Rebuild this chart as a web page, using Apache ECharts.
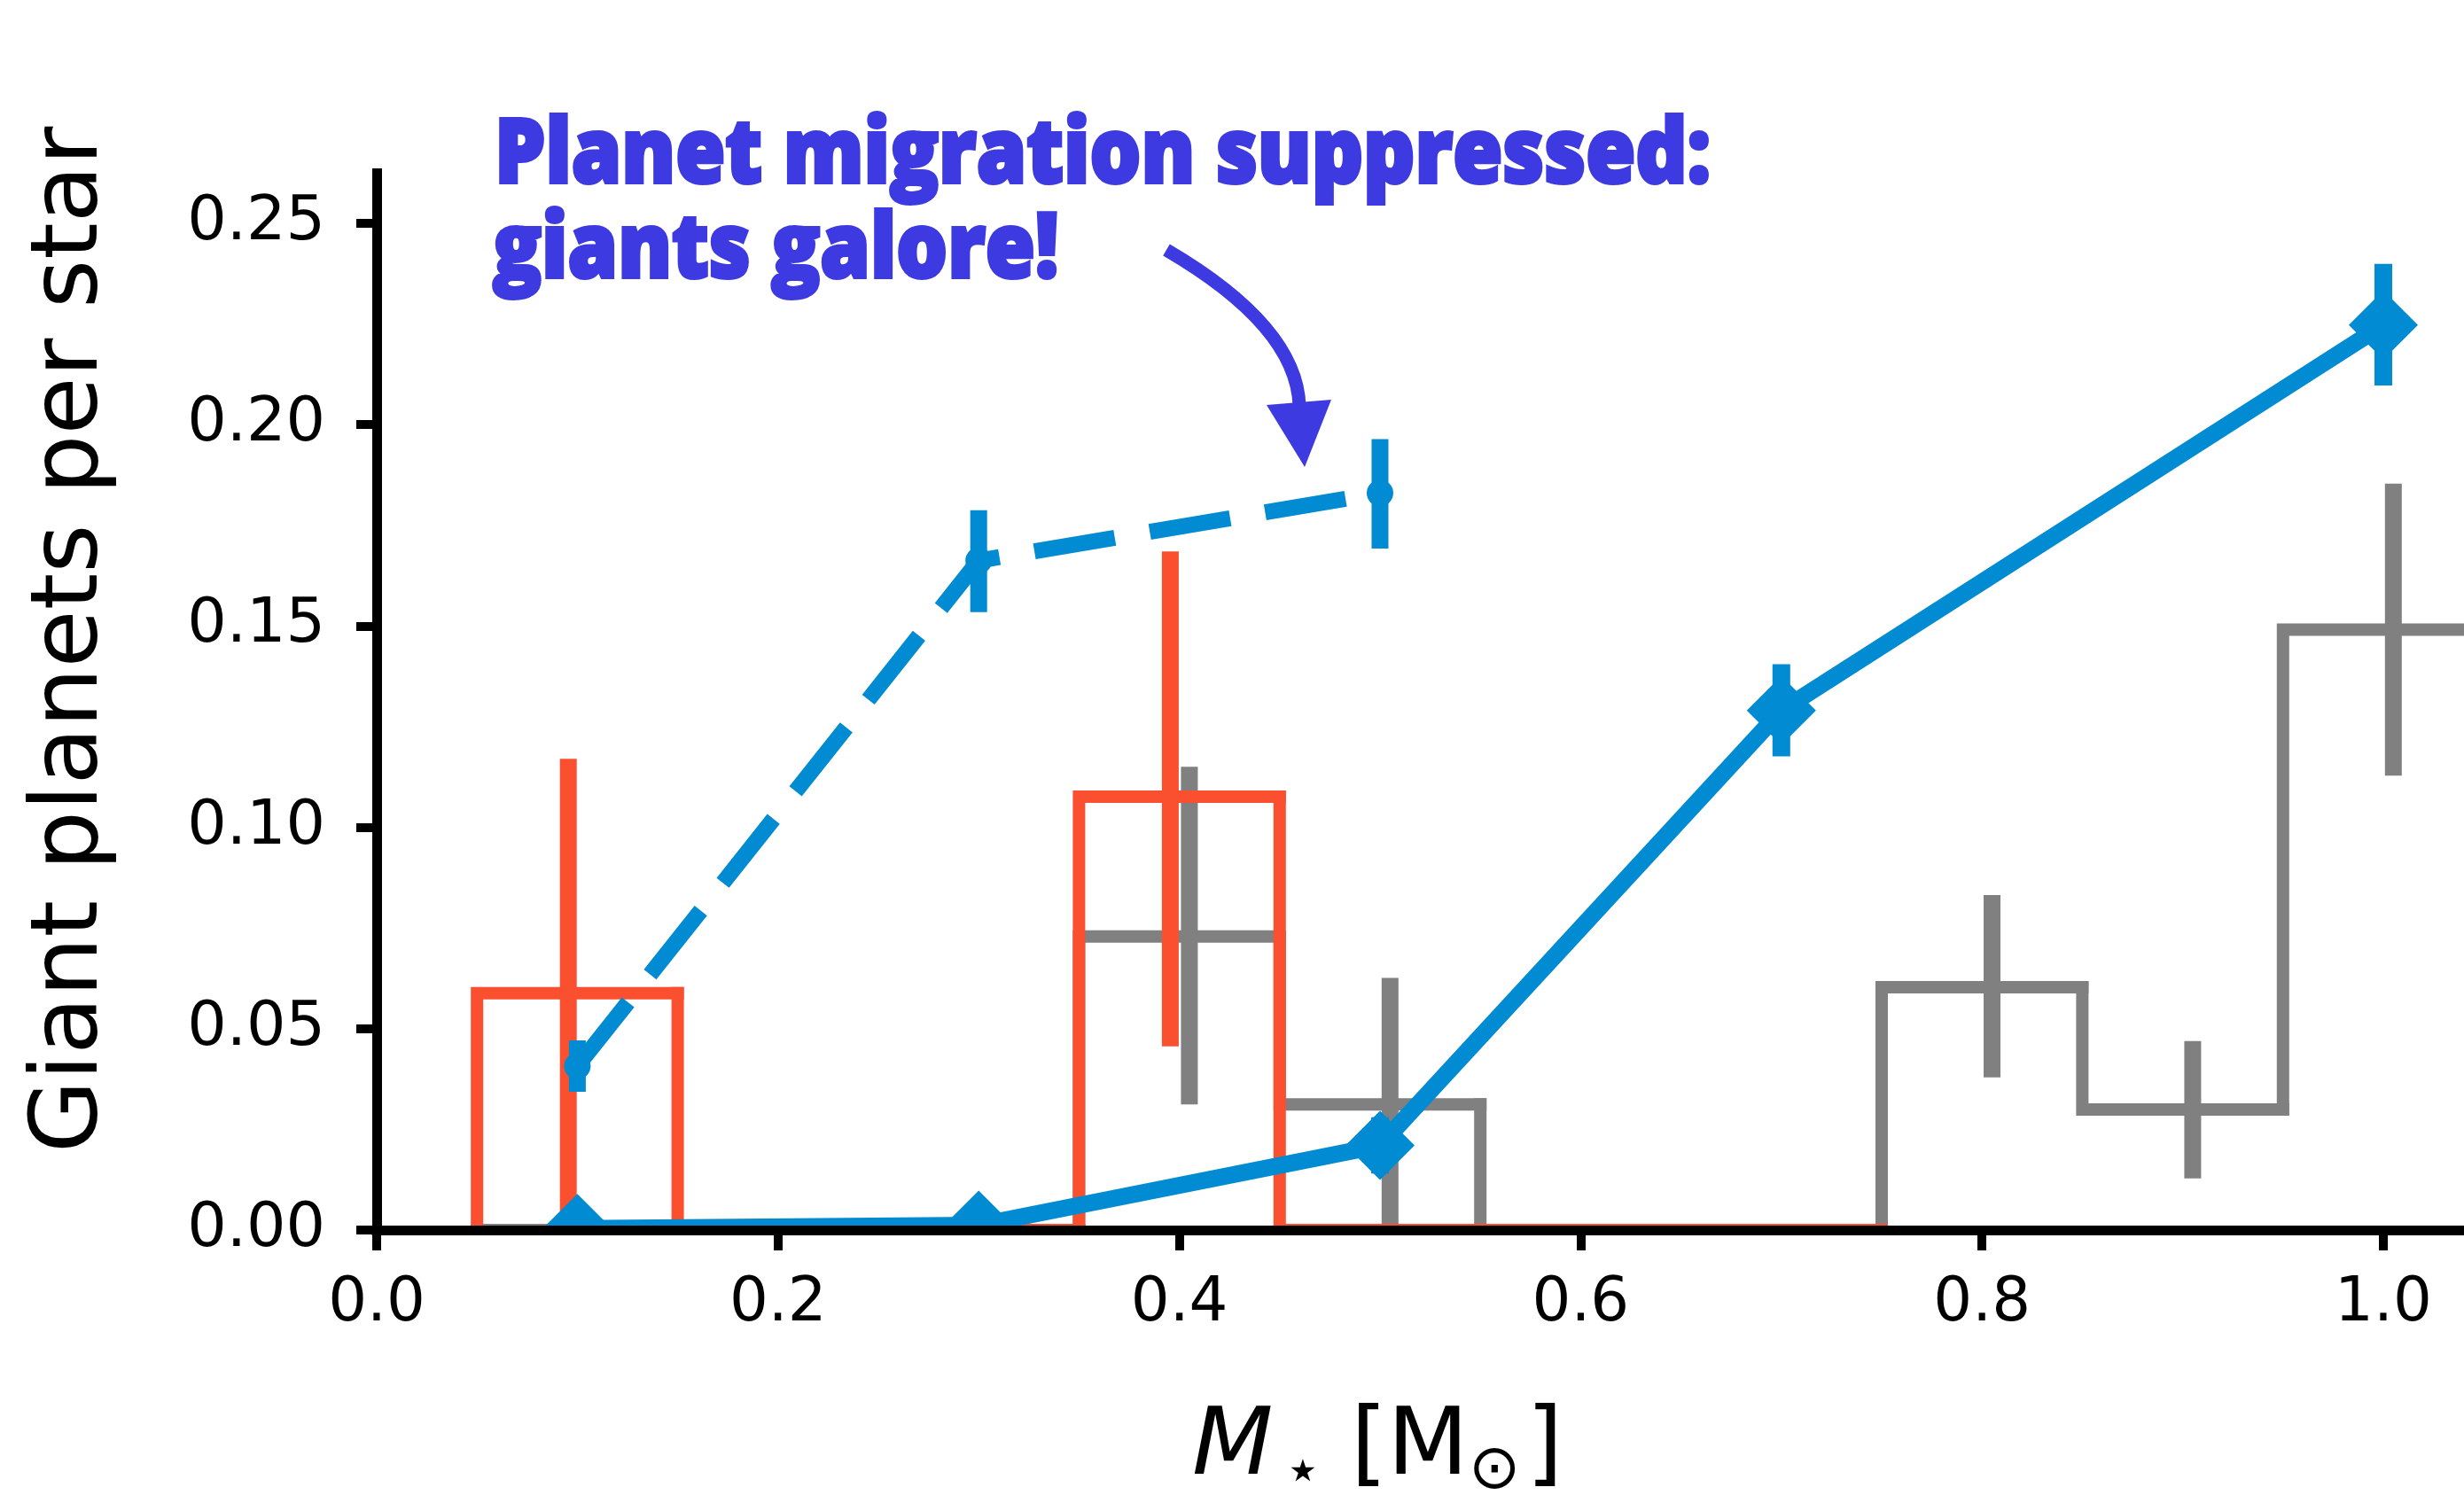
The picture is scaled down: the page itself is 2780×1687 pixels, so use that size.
<!DOCTYPE html>
<html>
<head>
<meta charset="utf-8">
<script src="https://cdn.jsdelivr.net/npm/echarts@6/dist/echarts.min.js"></script>
<style>
  html, body { margin: 0; padding: 0; background: #ffffff; }
  #chart { width: 2780px; height: 1687px; }
</style>
</head>
<body>
<div id="chart"></div>
<script>
// ---- data ---------------------------------------------------------------
// Model: giant planets per star vs. stellar mass, with migration (solid)
const massCentres   = [0.1, 0.3, 0.5, 0.7, 1.0];
const migrationRate = [0.0004, 0.0012, 0.021, 0.129, 0.2247];
const migrationLow  = [null, null, 0.014, 0.1176, 0.2097];
const migrationHigh = [null, null, 0.028, 0.1405, 0.2399];

// Model with planet migration suppressed (dashed)
const noMigMass = [0.1, 0.3, 0.5];
const noMigRate = [0.0407, 0.1662, 0.183];
const noMigLow  = [0.0343, 0.1534, 0.1692];
const noMigHigh = [0.0471, 0.1787, 0.1964];

// Observed occurrence, M dwarf survey (red step histogram)
const redEdges    = [0.05, 0.15, 0.25, 0.35, 0.45, 0.55, 0.65, 0.75];
const redRate     = [0.0588, 0, 0, 0.1076, 0, 0, 0];
const redErrMass  = [0.0955, 0.3955];
const redErrLow   = [0, 0.0456];
const redErrHigh  = [0.117, 0.1685];

// Observed occurrence, wider survey (grey step histogram)
const grayEdges   = [0.05, 0.15, 0.25, 0.35, 0.45, 0.55, 0.65, 0.75, 0.85, 0.95, 1.05];
const grayRate    = [0, 0, 0, 0.0729, 0.0312, 0, 0, 0.0603, 0.0299, 0.1491];
const grayErrMass = [0.405, 0.505, 0.805, 0.905, 1.005];
const grayErrLow  = [0.0312, 0, 0.0379, 0.0128, 0.1128];
const grayErrHigh = [0.115, 0.0626, 0.0832, 0.0469, 0.1853];

// Axis ticks
const xTicks = [0, 0.2, 0.4, 0.6, 0.8, 1.0];
const yTicks = [0, 0.05, 0.10, 0.15, 0.20, 0.25];

// ---- style --------------------------------------------------------------
const BLUE = '#008bd2';
const RED = '#fa5030';
const GRAY = '#808080';
const NOTE = '#3d3ae2';
const TICK_FONT = 'DejaVu Sans';

const chart = echarts.init(document.getElementById('chart'), null, { renderer: 'canvas' });

// Step outline: each bin draws its left riser and its top; the last bin closes to zero
function stepSeries(edges, rates, color) {
  const data = rates.map((h, i) => [edges[i], edges[i + 1], h, i > 0 ? rates[i - 1] : 0, i === rates.length - 1 ? 1 : 0]);
  return {
    type: 'custom', clip: true, silent: true, data,
    encode: { x: [0, 1], y: [2, 3] },
    renderItem(params, api) {
      const x0 = api.value(0), x1 = api.value(1), h = api.value(2), prev = api.value(3), last = api.value(4);
      const pts = [api.coord([x0, prev]), api.coord([x0, h]), api.coord([x1, h])];
      if (last) pts.push(api.coord([x1, 0]));
      return {
        type: 'polyline', shape: { points: pts },
        style: { stroke: color, lineWidth: 14, fill: null, lineJoin: 'miter', lineCap: 'square' }
      };
    }
  };
}

// Vertical error bars without caps
function errorSeries(xs, lo, hi, color, width) {
  const data = xs.map((x, i) => [x, lo[i], hi[i]]).filter(d => d[1] != null);
  return {
    type: 'custom', clip: true, silent: true, data,
    encode: { x: 0, y: [1, 2] },
    renderItem(params, api) {
      const a = api.coord([api.value(0), api.value(1)]);
      const b = api.coord([api.value(0), api.value(2)]);
      return {
        type: 'line', shape: { x1: a[0], y1: a[1], x2: b[0], y2: b[1] },
        style: { stroke: color, lineWidth: width, lineCap: 'butt' }
      };
    }
  };
}

// Solid model curve: segment to the next point, error bar and diamond marker
const migrationSeries = {
  type: 'custom', clip: true, silent: true,
  data: massCentres.map((x, i) => [x, migrationRate[i], migrationLow[i], migrationHigh[i]]),
  encode: { x: 0, y: 1 },
  renderItem(params, api) {
    const i = params.dataIndex;
    const p = api.coord([api.value(0), api.value(1)]);
    const children = [];
    if (i < massCentres.length - 1) {
      const q = api.coord([massCentres[i + 1], migrationRate[i + 1]]);
      children.push({
        type: 'line', shape: { x1: p[0], y1: p[1], x2: q[0], y2: q[1] },
        style: { stroke: BLUE, lineWidth: 19, lineCap: 'round' }
      });
    }
    if (migrationLow[i] != null) {
      const a = api.coord([api.value(0), migrationLow[i]]);
      const b = api.coord([api.value(0), migrationHigh[i]]);
      children.push({
        type: 'line', shape: { x1: a[0], y1: a[1], x2: b[0], y2: b[1] },
        style: { stroke: BLUE, lineWidth: 20, lineCap: 'butt' }
      });
    }
    const r = 39;
    children.push({
      type: 'polygon',
      shape: { points: [[p[0], p[1] - r], [p[0] + r, p[1]], [p[0], p[1] + r], [p[0] - r, p[1]]] },
      style: { fill: BLUE }
    });
    return { type: 'group', children };
  }
};

const noMigSeries = {
  type: 'line', silent: true,
  data: noMigMass.map((x, i) => [x, noMigRate[i]]),
  symbol: 'circle', symbolSize: 30,
  itemStyle: { color: BLUE },
  lineStyle: { color: BLUE, width: 18, type: [92, 40], cap: 'butt', join: 'round' }
};

function fmtTick(digits, ticks) {
  return v => ticks.some(t => Math.abs(t - v) < 1e-9) ? v.toFixed(digits) : '';
}

chart.setOption({
  animation: false,
  backgroundColor: '#ffffff',
  grid: { left: 425, right: 0, top: 190, bottom: 299, containLabel: false },
  xAxis: {
    type: 'value', min: 0, max: 1.0402, interval: 0.2, z: 5,
    splitLine: { show: false },
    axisLine: { show: true, onZero: false, lineStyle: { color: '#000', width: 11, cap: 'square' } },
    axisTick: { show: true, customValues: xTicks, length: 23, lineStyle: { color: '#000', width: 10 } },
    axisLabel: {
      customValues: xTicks, formatter: fmtTick(1, xTicks), margin: 50,
      fontFamily: TICK_FONT, fontSize: 69, color: '#000'
    }
  },
  yAxis: {
    type: 'value', min: 0, max: 0.2636, interval: 0.05, z: 5,
    splitLine: { show: false },
    axisLine: { show: true, onZero: false, lineStyle: { color: '#000', width: 11, cap: 'butt' } },
    axisTick: { show: true, customValues: yTicks, length: 23, lineStyle: { color: '#000', width: 10 } },
    axisLabel: {
      customValues: yTicks, formatter: fmtTick(2, yTicks), margin: 58,
      fontFamily: TICK_FONT, fontSize: 70, color: '#000'
    }
  },
  series: [
    stepSeries(grayEdges, grayRate, GRAY),
    errorSeries(grayErrMass, grayErrLow, grayErrHigh, GRAY, 19),
    stepSeries(redEdges, redRate, RED),
    errorSeries(redErrMass, redErrLow, redErrHigh, RED, 19),
    noMigSeries,
    errorSeries(noMigMass, noMigLow, noMigHigh, BLUE, 19),
    migrationSeries
  ]
});

// ---- labels and annotation ----------------------------------------------
const noteFont = '800 101px "Open Sans"';
const ctx = document.createElement('canvas').getContext('2d');
ctx.font = noteFont;
const noteLine1 = 'Planet migration suppressed:';
const noteLine2 = 'giants galore!';
const noteScale = 1372 / ctx.measureText(noteLine1).width;

const labelFont = { fontFamily: 'DejaVu Sans', fontSize: 106, fill: '#000' };

chart.setOption({
  graphic: [
    {
      type: 'text', x: 81, y: 722, rotation: Math.PI / 2, silent: true,
      style: Object.assign({ text: 'Giant planets per star', align: 'center', verticalAlign: 'middle' }, labelFont)
    },
    {
      type: 'text', x: 1345, y: 1635, silent: true,
      style: Object.assign({ text: 'M', align: 'left', verticalAlign: 'middle', fontStyle: 'italic' }, labelFont)
    },
    {
      type: 'text', x: 1448, y: 1664, silent: true,
      style: { text: '\u22c6', align: 'left', verticalAlign: 'middle', fontFamily: 'DejaVu Sans', fontSize: 70, fill: '#000' }
    },
    {
      type: 'text', x: 1524, y: 1635, silent: true,
      style: Object.assign({ text: '[M', align: 'left', verticalAlign: 'middle' }, labelFont)
    },
    {
      type: 'text', x: 1657, y: 1661, silent: true,
      style: { text: '\u2299', align: 'left', verticalAlign: 'middle', fontFamily: 'DejaVu Sans', fontSize: 70, fill: '#000' }
    },
    {
      type: 'text', x: 1722, y: 1635, silent: true,
      style: Object.assign({ text: ']', align: 'left', verticalAlign: 'middle' }, labelFont)
    },
    {
      type: 'text', x: 558, y: 177, scaleX: noteScale, silent: true,
      style: { text: noteLine1, font: noteFont, fill: NOTE, stroke: NOTE, lineWidth: 4, align: 'left', verticalAlign: 'middle' }
    },
    {
      type: 'text', x: 556, y: 284, scaleX: noteScale, silent: true,
      style: { text: noteLine2, font: noteFont, fill: NOTE, stroke: NOTE, lineWidth: 4, align: 'left', verticalAlign: 'middle' }
    },
    {
      type: 'bezierCurve', silent: true,
      shape: { x1: 1316, y1: 282, cpx1: 1463, cpy1: 368, x2: 1466, y2: 458 },
      style: { stroke: NOTE, lineWidth: 15, fill: null, lineCap: 'butt' }
    },
    {
      type: 'polygon', silent: true,
      shape: { points: [[1429, 457], [1502, 451], [1472, 527]] },
      style: { fill: NOTE }
    }
  ]
});
</script>
</body>
</html>
